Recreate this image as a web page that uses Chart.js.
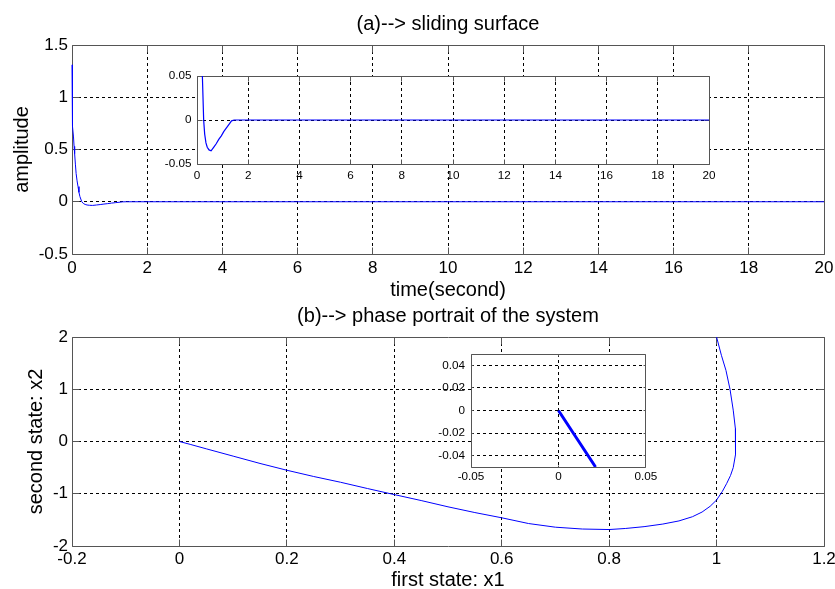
<!DOCTYPE html>
<html>
<head>
<meta charset="utf-8">
<script src="https://cdn.jsdelivr.net/npm/chart.js@4.4.0/dist/chart.umd.min.js"></script>
<style>
  html, body { margin: 0; padding: 0; background: #fff; overflow: hidden; }
  body { width: 835px; height: 589px; position: relative; }
  .box { position: absolute; }
</style>
</head>
<body>
<div class="box" style="left:0;top:0"><canvas id="surface" width="845" height="305"></canvas></div>
<div class="box" style="left:150px;top:60px"><canvas id="surfaceZoom" width="575" height="130"></canvas></div>
<div class="box" style="left:0;top:290px"><canvas id="phase" width="845" height="305"></canvas></div>
<div class="box" style="left:420px;top:340px"><canvas id="phaseZoom" width="240" height="150"></canvas></div>
<script>
const FONT = '"Liberation Sans", Arial, Helvetica, sans-serif';

// (a) sliding surface s(t)
const timeValues = [0, 0.004, 0.008, 0.015, 0.025, 0.04, 0.055, 0.07, 0.09, 0.11, 0.135, 0.16, 0.185, 0.21, 0.26,
  0.3, 0.35, 0.4, 0.47, 0.55, 0.65, 0.75, 0.85, 0.95, 1.05, 1.15, 1.25, 1.35, 1.45, 1.6, 20];
const surfaceValues = [1.31, 1.1, 0.9, 0.8, 0.72, 0.62, 0.53, 0.46, 0.36, 0.27, 0.2, 0.145, 0.09, 0.05, 0.0,
  -0.016, -0.026, -0.031, -0.034, -0.035, -0.031, -0.027, -0.022, -0.018, -0.013, -0.009, -0.005, -0.001, 0, 0, 0];
const surfaceXTicks = [0, 2, 4, 6, 8, 10, 12, 14, 16, 18, 20];
const surfaceYTicks = [-0.5, 0, 0.5, 1, 1.5];
const surfaceZoomYTicks = [-0.05, 0, 0.05];

// (b) phase portrait x1 / x2
const x1Values = [1.0, 1.009, 1.0175, 1.025, 1.031, 1.035, 1.036, 1.0345, 1.031, 1.026, 1.019, 1.0105, 1.0, 0.988,
  0.973, 0.955, 0.93, 0.9, 0.865, 0.83, 0.8, 0.75, 0.7, 0.65, 0.6, 0.55, 0.5, 0.45, 0.393, 0.35, 0.3, 0.25, 0.2, 0.15,
  0.1, 0.05, 0.02, 0.0];
const x2Values = [2.0, 1.65, 1.36, 1.0, 0.6, 0.25, 0.0, -0.25, -0.5, -0.65, -0.8, -0.96, -1.12, -1.24,
  -1.35, -1.44, -1.52, -1.58, -1.63, -1.665, -1.685, -1.675, -1.64, -1.57, -1.46, -1.36, -1.25, -1.13, -1.0, -0.9, -0.78,
  -0.67, -0.55, -0.42, -0.28, -0.14, -0.055, 0.0];
const phaseXTicks = [-0.2, 0, 0.2, 0.4, 0.6, 0.8, 1, 1.2];
const phaseYTicks = [-2, -1, 0, 1, 2];
const zoomX1Values = [0, 0.0106, 0.0212];
const zoomX2Values = [0, -0.025, -0.05];
const phaseZoomXTicks = [-0.05, 0, 0.05];
const phaseZoomYTicks = [-0.04, -0.02, 0, 0.02, 0.04];

// white axes background for insets, box + inward ticks like matlab
const matlabBox = {
  id: 'matlabBox',
  beforeDraw(chart, args, opts) {
    if (!opts.fill) return;
    const a = chart.chartArea;
    chart.ctx.save();
    chart.ctx.fillStyle = '#fff';
    chart.ctx.fillRect(a.left, a.top, a.width, a.height);
    chart.ctx.restore();
  },
  beforeDatasetsDraw(chart, args, opts) {
    const ctx = chart.ctx, a = chart.chartArea, sx = chart.scales.x, sy = chart.scales.y;
    const al = p => Math.round(p - 0.5) + 0.5;
    const L = al(a.left), R = al(a.right), T = al(a.top), B = al(a.bottom);
    const len = opts.tick;
    ctx.save();
    ctx.strokeStyle = '#555';
    ctx.lineWidth = 1;
    ctx.beginPath();
    ctx.rect(L, T, R - L, B - T);
    sx.ticks.forEach(t => {
      const x = al(sx.getPixelForValue(t.value));
      ctx.moveTo(x, B); ctx.lineTo(x, B - len);
      ctx.moveTo(x, T); ctx.lineTo(x, T + len);
    });
    sy.ticks.forEach(t => {
      const y = al(sy.getPixelForValue(t.value));
      ctx.moveTo(L, y); ctx.lineTo(L + len, y);
      ctx.moveTo(R, y); ctx.lineTo(R - len, y);
    });
    ctx.stroke();
    ctx.restore();
  }
};

function axis(min, max, tickList, o) {
  return {
    type: 'linear',
    min: min,
    max: max,
    afterBuildTicks: s => { s.ticks = tickList.map(v => ({ value: v })); },
    afterFit: s => { if (o.width !== undefined) s.width = o.width; if (o.height !== undefined) s.height = o.height; },
    ticks: {
      color: '#000',
      font: { family: FONT, size: o.tickSize },
      padding: o.tickPad,
      autoSkip: false,
      maxRotation: 0,
      callback: v => String(v)
    },
    grid: {
      drawTicks: false,
      lineWidth: 1,
      color: c => (c.tick && (c.tick.value === min || c.tick.value === max)) ? 'rgba(0,0,0,0)' : '#000'
    },
    border: { display: false, dash: [3, 3] },
    title: o.title ? {
      display: true,
      text: o.title,
      color: '#000',
      font: { family: FONT, size: 20 },
      padding: o.titlePad
    } : { display: false }
  };
}

// area = plot box in page pixels
function plot(id, area, o) {
  const canvas = document.getElementById(id);
  const ox = canvas.parentNode.offsetLeft, oy = canvas.parentNode.offsetTop;
  const W = canvas.width, H = canvas.height;
  const l = area.l - ox, t = area.t - oy, r = area.r - ox, b = area.b - oy;
  const x = axis(o.xMin, o.xMax, o.xTicks, {
    height: H - b, tickSize: o.tickSize, tickPad: o.xTickPad,
    title: o.xTitle, titlePad: { top: 0, bottom: o.xTitlePad }
  });
  const y = axis(o.yMin, o.yMax, o.yTicks, {
    width: l, tickSize: o.tickSize, tickPad: o.yTickPad,
    title: o.yTitle, titlePad: { top: o.yTitlePad, bottom: 0 }
  });
  return new Chart(canvas, {
    type: 'scatter',
    data: {
      datasets: [{
        data: o.xs.map((v, i) => ({ x: v, y: o.ys[i] })),
        showLine: true,
        borderColor: '#0000ff',
        borderWidth: o.lineWidth,
        pointRadius: 0,
        tension: 0,
        fill: false,
        clip: o.clip
      }]
    },
    options: {
      responsive: false,
      animation: false,
      devicePixelRatio: 1,
      layout: { padding: { left: 0, top: o.title ? 0 : t, right: W - r, bottom: 0 } },
      plugins: {
        legend: { display: false },
        tooltip: { enabled: false },
        title: o.title ? {
          display: true,
          text: o.title,
          fullSize: false,
          color: '#000',
          font: { family: FONT, size: 20, weight: 'normal' },
          padding: { top: o.titleCenter - 12, bottom: t - (o.titleCenter - 12) - 24 }
        } : { display: false },
        matlabBox: { fill: !!o.inset, tick: o.tickLen }
      },
      scales: { x: x, y: y }
    },
    plugins: [matlabBox]
  });
}

plot('surface', { l: 72, t: 45, r: 824, b: 254 }, {
  xs: timeValues, ys: surfaceValues, lineWidth: 1, clip: { left: 2, top: 0, right: 0, bottom: 0 },
  xMin: 0, xMax: 20, xTicks: surfaceXTicks,
  yMin: -0.5, yMax: 1.5, yTicks: surfaceYTicks,
  tickSize: 17, xTickPad: 4, yTickPad: 4, tickLen: 7,
  title: '(a)--> sliding surface', titleCenter: 24,
  xTitle: 'time(second)', xTitlePad: 3,
  yTitle: 'amplitude', yTitlePad: 10
});

plot('surfaceZoom', { l: 197, t: 76, r: 709, b: 164 }, {
  xs: timeValues, ys: surfaceValues, lineWidth: 1.2, inset: true, clip: 0,
  xMin: 0, xMax: 20, xTicks: surfaceXTicks,
  yMin: -0.05, yMax: 0.05, yTicks: surfaceZoomYTicks,
  tickSize: 11.7, xTickPad: 5, yTickPad: 5.5, tickLen: 5
});

plot('phase', { l: 72, t: 337, r: 824, b: 546 }, {
  xs: x1Values, ys: x2Values, lineWidth: 1, clip: 1,
  xMin: -0.2, xMax: 1.2, xTicks: phaseXTicks,
  yMin: -2, yMax: 2, yTicks: phaseYTicks,
  tickSize: 17, xTickPad: 3, yTickPad: 4, tickLen: 7,
  title: '(b)--> phase portrait of the system', titleCenter: 26,
  xTitle: 'first state: x1', xTitlePad: 3,
  yTitle: 'second state: x2', yTitlePad: 24
});

plot('phaseZoom', { l: 471, t: 354, r: 647, b: 467 }, {
  xs: zoomX1Values, ys: zoomX2Values, lineWidth: 3, inset: true, clip: 0,
  xMin: -0.05, xMax: 0.05, xTicks: phaseZoomXTicks,
  yMin: -0.05, yMax: 0.05, yTicks: phaseZoomYTicks,
  tickSize: 11.7, xTickPad: 2.7, yTickPad: 6, tickLen: 2
});
</script>
</body>
</html>
